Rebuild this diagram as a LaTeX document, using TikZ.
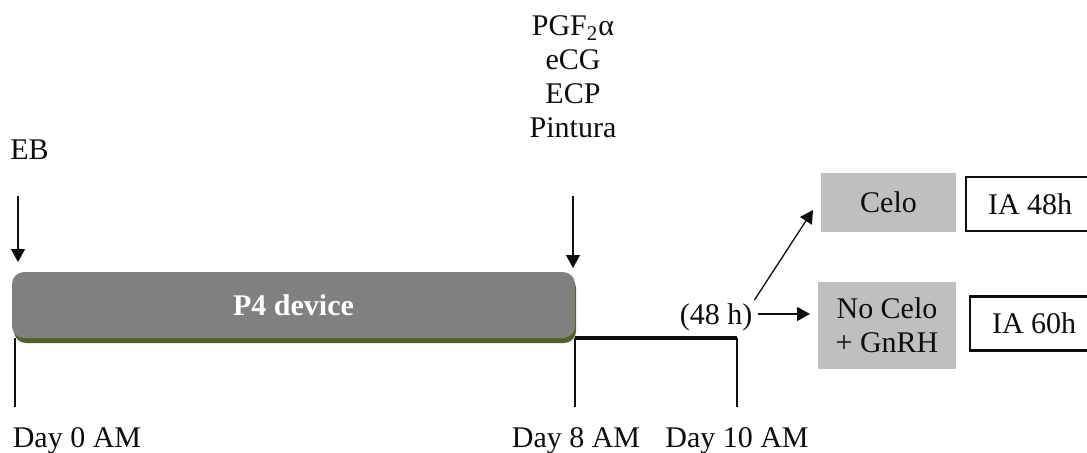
\documentclass[tikz,border=0pt]{standalone}
\usepackage{fontspec}
\setmainfont{Liberation Serif}
\usetikzlibrary{arrows.meta,positioning}
\definecolor{ProtoBar}{gray}{0.5}
\definecolor{ProtoShadow}{HTML}{4F6228}
\definecolor{ProtoState}{gray}{0.75}
\definecolor{ProtoInk}{gray}{0.05}
\tikzset{
    proto/diagram/.style={
        x=0.5pt, y=-0.5pt,
        font=\fontsize{15}{17}\selectfont,
        text=ProtoInk,
        line cap=butt,
        every node/.style={inner sep=0pt, outer sep=0pt}
    },
    proto/tick/.style={draw=ProtoInk, line width=0.65pt},
    proto/span/.style={draw=ProtoInk, line width=2pt},
    proto/pointer/.style={
        draw=ProtoInk, line width=0.65pt,
        -{Triangle[length=6.5pt, width=7pt]}
    },
    proto/device/.style={
        fill=ProtoBar, draw=none, rounded corners=6pt,
        minimum width=281.5pt, minimum height=33pt,
        text=white, font=\fontsize{15}{17}\selectfont\bfseries
    },
    proto/state/.style={fill=ProtoState, draw=none, align=center},
    proto/insem/.style={
        draw=ProtoInk, line width=1.2pt, fill=white,
        anchor=west, inner xsep=11pt, minimum height=27pt
    },
    proto/date/.style={anchor=base}
}

\begin{document}
\begin{tikzpicture}[proto/diagram]
    \useasboundingbox (0,0) rectangle (1087,452);
    \clip (0,0) rectangle (1087,452);
    % P4 device with its shadow
    \fill[ProtoShadow, rounded corners=6pt] (14,276) rectangle (576,343);
    \node[proto/device] (device) at (293.5,305) {P4 device};
    % treatments
    \node (eb) at (29.5,150) {EB};
    \node[anchor=north, align=center] (drugs) at (573,16)
        {PGF\textsubscript{2}α\\eCG\\ECP\\Pintura};
    \coordinate (ebtail) at (18,196);
    \coordinate (ebhead) at (18,262);
    \coordinate (drugstail) at (573,196);
    \coordinate (drugshead) at (573,268);
    \draw[proto/pointer] (ebtail) -- (ebhead);
    \draw[proto/pointer] (drugstail) -- (drugshead);
    % time line
    \coordinate (d0) at (15,338);
    \coordinate (d8) at (575,338);
    \coordinate (d10) at (737,338);
    \draw[proto/span] (d8) -- (d10);
    \foreach \d in {d0,d8,d10}
        \draw[proto/tick] (\d) -- ++(0,69);
    \node[proto/date] (day0) at (77,447) {Day 0 AM};
    \node[proto/date] (day8) at (576,447) {Day 8 AM};
    \node[proto/date] (day10) at (737,447) {Day 10 AM};
    % heat detection
    \node (wait) at (716,317) {(48 h)};
    \node[proto/state, minimum width=67.5pt, minimum height=29.5pt]
        (estrus) at (888.5,202.5) {Celo};
    \node[proto/state, minimum width=69pt, minimum height=43.5pt]
        (anestrus) at (887,325.5) {No Celo\\+ GnRH};
    \coordinate (estrusin) at (813,210);
    \draw[proto/pointer, shorten <=2pt] (wait.north east) -- (estrusin);
    \draw[proto/pointer, shorten <=3pt, shorten >=4pt]
        ([yshift=1.5pt]wait.east) -- ([yshift=1.5pt]wait.east -| anestrus.west);
    % insemination
    \node[proto/insem] (ia48) at (966,204) {IA 48h};
    \node[proto/insem] (ia60) at (970,323.5) {IA 60h};
\end{tikzpicture}
\end{document}
